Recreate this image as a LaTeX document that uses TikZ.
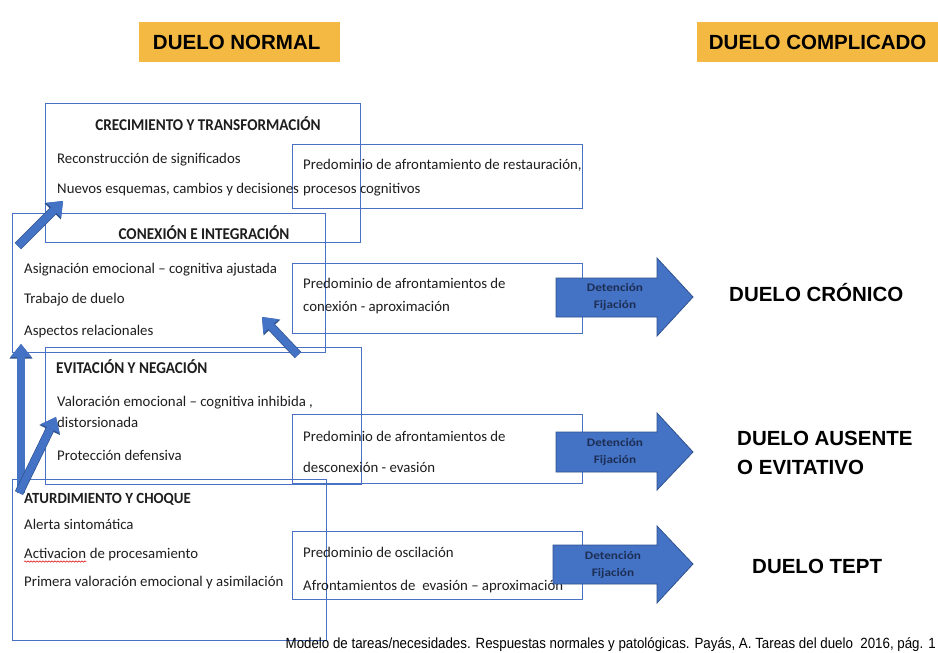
\documentclass[tikz,border=0pt]{standalone}
\usepackage{fontspec}
\setmainfont{Carlito}
\newfontfamily\arialfont{Liberation Sans}
\newfontfamily\arialnarrow[FakeStretch=0.9]{Liberation Sans}
\newfontfamily\titlefont[FakeStretch=0.92]{Carlito}
\newfontfamily\titlefontb[FakeStretch=0.96]{Carlito}
\newfontfamily\detfont[FakeStretch=1.15]{Carlito}
\usetikzlibrary{arrows.meta,decorations.pathmorphing}
\definecolor{boxblue}{HTML}{4A72C4}
\definecolor{arrowblue}{HTML}{4472C4}
\definecolor{arrowborder}{HTML}{2F528F}
\definecolor{hdryellow}{HTML}{F4B942}
\definecolor{txtcol}{HTML}{1E1E1E}
\definecolor{navy}{HTML}{1C2E55}
\begin{document}
\begin{tikzpicture}[x=1pt,y=-1pt,
  boxst/.style={draw=boxblue, line width=0.8pt, anchor=north west, inner sep=0pt, outer sep=0pt},
  txt/.style={anchor=base west, inner sep=0pt, text=txtcol, font=\fontsize{14.8}{17}\selectfont},
  ttl/.style={anchor=base, inner sep=0pt, text=txtcol, font=\titlefont\fontsize{16.5}{19}\selectfont\bfseries},
  ttlb/.style={anchor=base west, inner sep=0pt, text=txtcol, font=\titlefontb\fontsize{15.5}{18}\selectfont\bfseries},
  hdr/.style={fill=hdryellow, inner sep=0pt, anchor=north west, minimum height=40pt, text=black, font=\arialfont\bfseries\fontsize{20.5}{24}\selectfont},
  res/.style={anchor=base west, inner sep=0pt, text=black, font=\arialfont\bfseries\fontsize{20.5}{24}\selectfont},
  detxt/.style={align=center, inner sep=0pt, text=navy, font=\detfont\fontsize{11.5}{17}\selectfont\bfseries},
  blk/.style={draw=arrowborder, line width=0.8pt, fill=arrowblue},
  sarrow/.style={arrowblue, line width=7.5pt, -{Triangle[width=21pt,length=13pt,line width=0pt]},
    preaction={draw=arrowborder, line width=8.9pt, -{Triangle[width=23pt,length=14.5pt,line width=0pt]}}}
]
\useasboundingbox[fill=white] (0,0) rectangle (938,653);

% headers
\node[hdr, minimum width=201pt] (hn) at (139,22) {DUELO NORMAL\hspace*{6pt}};
\node[hdr, minimum width=241pt] (hc) at (697,22) {DUELO COMPLICADO};

% boxes
\node[boxst, minimum width=315pt, minimum height=139pt] (crec) at (45,103) {};
\node[boxst, minimum width=290pt, minimum height=64pt] (rest) at (292,144) {};
\node[boxst, minimum width=313pt, minimum height=139pt] (conex) at (12,213) {};
\node[boxst, minimum width=290pt, minimum height=70pt] (conap) at (292,263) {};
\node[boxst, minimum width=316pt, minimum height=137pt] (evit) at (45,347) {};
\node[boxst, minimum width=290pt, minimum height=69pt] (desc) at (292,414) {};
\node[boxst, minimum width=314pt, minimum height=161pt] (atur) at (12,479) {};
\node[boxst, minimum width=290pt, minimum height=68pt] (osc) at (292,531) {};

% texts: crecimiento
\node[ttl] (t1) at (208,130) {CRECIMIENTO Y TRANSFORMACIÓN};
\node[txt] (t1a) at (57,163) {Reconstrucción de significados};
\node[txt] (t1b) at (57,193) {Nuevos esquemas, cambios y decisiones};
\node[txt] (r1a) at (303,169) {Predominio de afrontamiento de restauración,};
\node[txt] (r1b) at (303,193) {procesos cognitivos};

% conexion
\node[ttl] (t2) at (204,239) {CONEXIÓN E INTEGRACIÓN};
\node[txt] (t2a) at (24,273) {Asignación emocional – cognitiva ajustada};
\node[txt] (t2b) at (24,303) {Trabajo de duelo};
\node[txt] (t2c) at (24,335) {Aspectos relacionales};
\node[txt] (r2a) at (303,288) {Predominio de afrontamientos de};
\node[txt] (r2b) at (303,311) {conexión - aproximación};

% evitacion
\node[ttl, anchor=base west] (t3) at (56,373) {EVITACIÓN Y NEGACIÓN};
\node[txt] (t3a) at (57,406) {Valoración emocional – cognitiva inhibida ,};
\node[txt] (t3b) at (57,427) {distorsionada};
\node[txt] (t3c) at (57,460) {Protección defensiva};
\node[txt] (r3a) at (303,441) {Predominio de afrontamientos de};
\node[txt] (r3b) at (303,472) {desconexión - evasión};

% aturdimiento
\node[ttlb] (t4) at (24,503) {ATURDIMIENTO Y CHOQUE};
\node[txt] (t4a) at (24,529) {Alerta sintomática};
\node[txt] (t4b) at (24,558) {Activacion};
\node[txt] (t4c) at (t4b.base east) {\ de procesamiento};
\node[txt] (t4d) at (24,586) {Primera valoración emocional y asimilación};
\draw[red!85!black, line width=0.5pt, decorate, decoration={snake, amplitude=0.7pt, segment length=3pt}]
  ([yshift=-3.5pt]t4b.base west) -- ([yshift=-3.5pt]t4b.base east);
\node[txt] (r4a) at (303,557) {Predominio de oscilación};
\node[txt] (r4b) at (303,590) {Afrontamientos de\ \ evasión – aproximación};

% big arrows
\draw[blk] (556,278) -- (657,278) -- (657,258) -- (693,297) -- (657,336) -- (657,317) -- (556,317) -- cycle;
\node[detxt] (d1) at (615,297) {Detención\\Fijación};
\draw[blk] (556,432) -- (657,432) -- (657,413) -- (693,452) -- (657,490) -- (657,472) -- (556,472) -- cycle;
\node[detxt] (d2) at (615,452) {Detención\\Fijación};
\draw[blk] (553,545) -- (657,545) -- (657,526) -- (693,564) -- (657,603) -- (657,584) -- (553,584) -- cycle;
\node[detxt] (d3) at (613,565) {Detención\\Fijación};

% results
\node[res] (o1) at (729,301) {DUELO CRÓNICO};
\node[res] (o2) at (737,445) {DUELO AUSENTE};
\node[res] (o3) at (737,474) {O EVITATIVO};
\node[res] (o4) at (752,573) {DUELO TEPT};

% small arrows
\coordinate (a1s) at (18,246); \coordinate (a1e) at (63,201);
\coordinate (a2s) at (298,355); \coordinate (a2e) at (262,317);
\coordinate (a3s) at (21,493); \coordinate (a3e) at (21,344);
\coordinate (a4s) at (19,493); \coordinate (a4e) at (56,417);
\draw[sarrow] (a1s) -- (a1e);
\draw[sarrow] (a2s) -- (a2e);
\draw[sarrow] (a3s) -- (a3e);
\draw[sarrow] (a4s) -- (a4e);

% footer
\node[anchor=base east, inner sep=0pt, text=black, font=\arialnarrow\fontsize{14.8}{17}\selectfont] (foot) at (936,648)
  {Modelo de tareas/necesidades. Respuestas normales y patológicas. Payás, A. Tareas del duelo\ \ 2016, pág. 1};
\end{tikzpicture}
\end{document}
